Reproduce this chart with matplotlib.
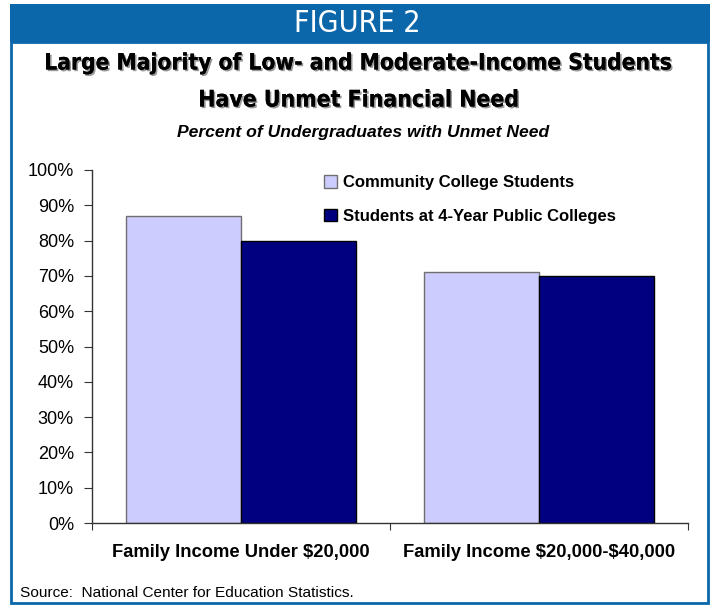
import numpy as np
import matplotlib.pyplot as plt
import matplotlib.patheffects as pe
from matplotlib.patches import Rectangle
from matplotlib import font_manager as fm

groups = ["Family Income Under \\$20,000", "Family Income \\$20,000-\\$40,000"]
series = ["Community College Students", "Students at 4-Year Public Colleges"]
community = [87, 71]
public4yr = [80, 70]
yticks = [0, 10, 20, 30, 40, 50, 60, 70, 80, 90, 100]

W, H = 710, 605
fig = plt.figure(figsize=(W / 100, H / 100), dpi=100)
fig.patch.set_facecolor("white")
renderer = fig.canvas.get_renderer()


def condensed_font(bold):
    # look for a narrow / condensed upright face, otherwise plain Liberation Sans
    for f in fm.fontManager.ttflist:
        nm = f.name.lower()
        narrow = ("narrow" in nm or "condensed" in nm or f.stretch in ("condensed", "semi-condensed"))
        isbold = f.weight in ("bold", 700, "semibold", 600)
        if (narrow and isbold == bold and f.style == "normal"
                and "mono" not in nm and "serif" not in nm):
            return fm.FontProperties(fname=f.fname)
    return fm.FontProperties(family="Liberation Sans", weight="bold" if bold else "normal")


def fit(t, width):
    # scale font size so the text spans the given pixel width
    w = t.get_window_extent(renderer).width
    t.set_fontsize(t.get_fontsize() * width / w)


blue = "#0b67aa"
fig.patches.append(Rectangle((10 / W, 1 - 42 / H), 1 - 10 / W, 38 / H, transform=fig.transFigure,
                             facecolor=blue, edgecolor="none", zorder=0))
fig.patches.append(Rectangle((11 / W, 2 / H), (708 - 11) / W, 1 - 42 / H - 2 / H,
                             transform=fig.transFigure, facecolor="none",
                             edgecolor=blue, linewidth=2, zorder=0))

t = fig.text(0.5 + 2 / W, 1 - 23 / H, "FIGURE 2", color="white", ha="center", va="center",
             fontproperties=condensed_font(False), fontsize=20)
fit(t, 127)

shadow = [pe.withSimplePatchShadow(offset=(1.2, -1.2), shadow_rgbFace="#999999", alpha=1.0),
          pe.Normal()]
for txt, y, wd in [("Large Majority of Low- and Moderate-Income Students", 63, 628),
                   ("Have Unmet Financial Need", 100, 321)]:
    t = fig.text(0.5 + 4 / W, 1 - y / H, txt, ha="center", va="center", fontsize=20,
                 fontproperties=condensed_font(True), color="black")
    fit(t, wd)
    t.set_path_effects(shadow)

fig.text(0.5 + 8 / W, 1 - 133 / H, "Percent of Undergraduates with Unmet Need", ha="center",
         va="center", fontsize=12.6, fontweight="bold", fontstyle="italic",
         family="Liberation Sans")

ax = fig.add_axes([92 / W, 1 - 523 / H, (688 - 92) / W, (523 - 170) / H])
x = np.arange(len(groups))
bw = 0.387
ax.bar(x - bw / 2, community, bw, color="#ccccff", edgecolor="#707070", linewidth=1,
       label=series[0])
ax.bar(x + bw / 2, public4yr, bw, color="#000080", edgecolor="#000000", linewidth=1,
       label=series[1])
ax.set_xlim(-0.5, 1.5)
ax.set_ylim(0, 100)
ax.set_yticks(yticks)
ax.set_yticklabels([f"{v}%" for v in yticks], fontsize=13, family="Liberation Sans")
ax.set_xticks([-0.5, 0.5, 1.5])
ax.set_xticklabels([])
ax.set_xticks(x, minor=True)
ax.set_xticklabels(groups, minor=True, fontsize=13.2, fontweight="bold",
                   family="Liberation Sans")
ax.tick_params(axis="x", which="minor", length=0, pad=15)
ax.tick_params(axis="x", which="major", length=5, direction="out", color="#333333")
ax.tick_params(axis="y", length=6, direction="out", color="#333333", pad=7)
for s in ["top", "right"]:
    ax.spines[s].set_visible(False)
for s in ["left", "bottom"]:
    ax.spines[s].set_color("#333333")
    ax.spines[s].set_linewidth(1)

ax.legend(loc="upper left", bbox_to_anchor=(0.37, 1.018), frameon=False,
          prop={"family": "Liberation Sans", "weight": "bold", "size": 12},
          handlelength=0.75, handleheight=0.75, handletextpad=0.4,
          labelspacing=1.1, borderaxespad=0.3)

fig.text(20 / W, 1 - 593 / H, "Source:  National Center for Education Statistics.",
         ha="left", va="center", fontsize=11.1, family="Liberation Sans")

fig.savefig("out.png", dpi=100)
